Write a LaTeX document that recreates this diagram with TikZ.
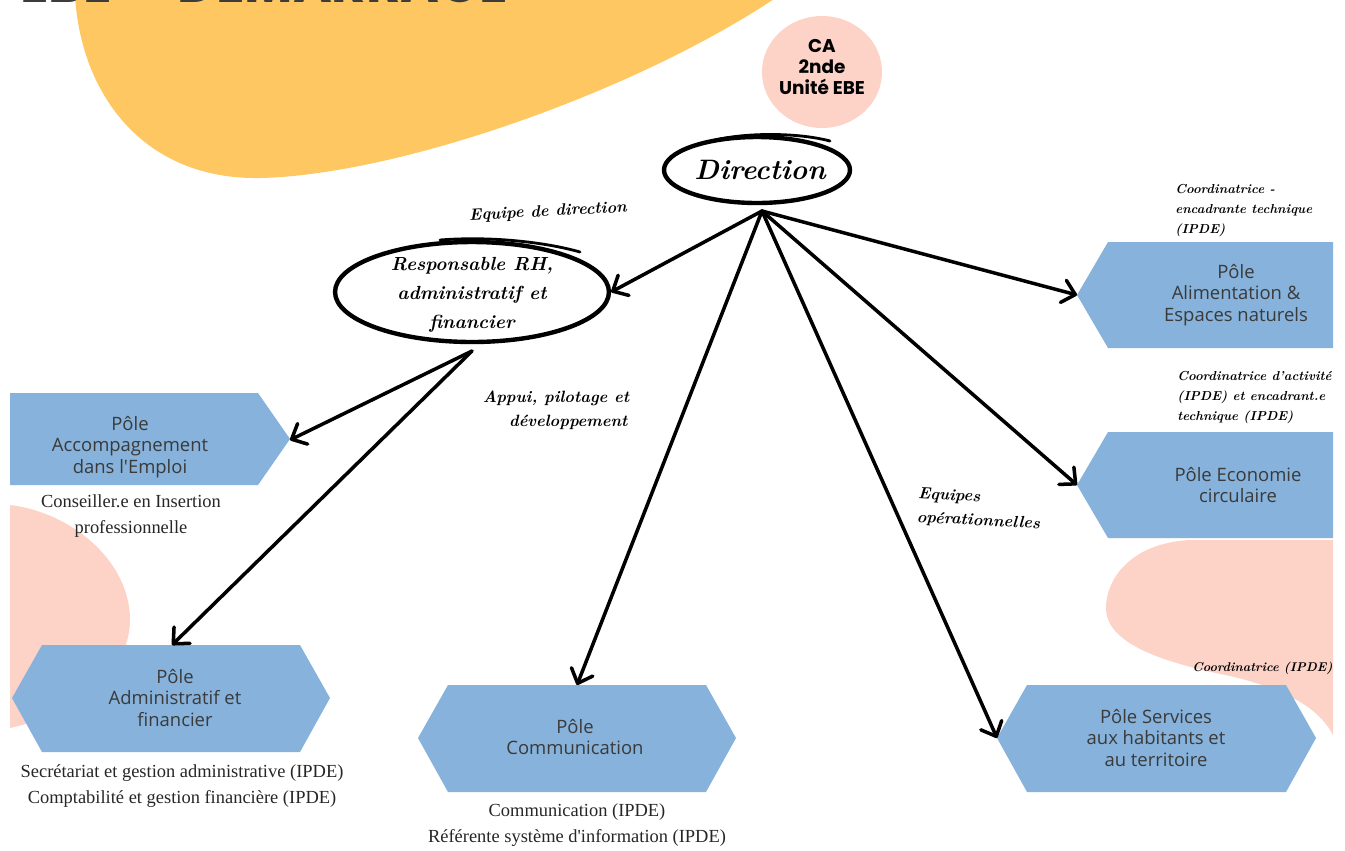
\documentclass[tikz,border=0pt]{standalone}
\usepackage{fontspec}
\usetikzlibrary{shapes.geometric,arrows.meta}
\newfontfamily\hexfont{Open Sans}
\newfontfamily\capfont{Liberation Serif}
\newfontfamily\roundfont{Poppins}
\definecolor{hexblue}{HTML}{86B2DB}
\definecolor{sunyellow}{HTML}{FEC761}
\definecolor{blush}{HTML}{FDD2C7}
\definecolor{hextext}{HTML}{3A3A3A}
\definecolor{captext}{HTML}{262626}
\definecolor{titlegray}{HTML}{3C3C3C}
\tikzset{
  hexbox/.style={fill=hexblue, draw=none},
  hexlabel/.style={font=\hexfont\fontsize{10.5}{12.2}\selectfont, text=hextext, align=center, inner sep=0pt},
  caplabel/.style={font=\capfont\fontsize{10.5}{14.5}\selectfont, text=captext, align=center, inner sep=0pt},
  scriptlabel/.style={font=\bfseries\itshape\fontsize{9.3}{13.5}\selectfont, text=black, inner sep=0pt},
  smallscript/.style={font=\bfseries\itshape\fontsize{7.4}{11.3}\selectfont, text=black, align=left, inner sep=0pt},
  ring/.style={ellipse, draw=black, line width=2.5pt, inner sep=0pt},
  link/.style={line width=2pt, line cap=round, -{Straight Barb[length=7pt,width=13pt,round]}},
}
\begin{document}
\begin{tikzpicture}[x=0.02cm, y=-0.02cm]
\useasboundingbox (0,0) rectangle (1345,850);
\clip (0,0) rectangle (1345,850);

% background shapes
\fill[sunyellow] (75,-5) .. controls (80,90) and (140,180) .. (260,178)
  .. controls (400,175) and (640,90) .. (780,-5) -- cycle;
\node[anchor=base west, inner sep=0pt, text=titlegray,
  font=\roundfont\bfseries\fontsize{30}{30}\selectfont] (title) at (20,2) {EBE\,\,-\,\,DEMARRAGE};
\fill[blush] (822,72) ellipse[x radius=60, y radius=56];
\fill[blush] (10,505) .. controls (70,512) and (130,560) .. (130,620)
  .. controls (130,675) and (70,715) .. (10,728) -- cycle;
\fill[blush] (1333,540) -- (1190,540) .. controls (1130,543) and (1105,580) .. (1106,610)
  .. controls (1108,640) and (1150,660) .. (1230,676)
  .. controls (1290,690) and (1320,710) .. (1333,735) -- cycle;

% board
\node[font=\roundfont\bfseries\fontsize{10.5}{12}\selectfont, align=center, inner sep=0pt] (ca) at (822,67) {CA\\2nde\\Unité EBE};

% management
\node[ring, minimum width=3.72cm, minimum height=1.32cm] (direction) at (757,170) {};
\node[font=\bfseries\itshape\fontsize{16}{16}\selectfont, inner sep=0pt] (dirlabel) at (760,170) {Direction};
\draw[line width=1.6pt, line cap=round] (715,140) .. controls (750,132) and (800,133) .. (830,141);

\node[ring, minimum width=5.48cm, minimum height=2.0cm] (rh) at (472,292) {};
\node[font=\bfseries\itshape\fontsize{10.8}{16.4}\selectfont, align=center, inner sep=0pt] (rhlabel) at (472,295)
  {Responsable RH,\\administratif et\\financier};
\draw[line width=1.6pt, line cap=round] (440,240) .. controls (490,236) and (545,242) .. (580,252);

\node[scriptlabel, rotate=3] (teamlabel) at (548,212) {Equipe de direction};
\node[scriptlabel, align=center] (supportlabel) at (556,410) {Appui, pilotage et\\\hspace*{1.5em}développement};
\node[scriptlabel, align=left, anchor=north west, rotate=-3] (opslabel) at (918,487) {Equipes\\opérationnelles};

% departments
\fill[hexbox] (1077,295) -- (1108,242) -- (1333,242) -- (1333,348) -- (1108,348) -- cycle;
\coordinate (alimtip) at (1077,295);
\node[hexlabel] (alim) at (1236,295) {Pôle\\Alimentation \&\\Espaces naturels};
\node[smallscript, anchor=north west] (alimnote) at (1175,184) {Coordinatrice -\\encadrante technique\\(IPDE)};

\fill[hexbox] (1077,485) -- (1108,432) -- (1333,432) -- (1333,538) -- (1108,538) -- cycle;
\coordinate (ecotip) at (1077,485);
\node[hexlabel] (eco) at (1238,485) {Pôle Economie\\circulaire};
\node[smallscript, anchor=north west] (econote) at (1177,371) {Coordinatrice d'activité\\(IPDE) et encadrant.e\\technique (IPDE)};

\fill[hexbox] (10,393) -- (258,393) -- (290,439) -- (258,485) -- (10,485) -- cycle;
\coordinate (accomptip) at (290,440);
\node[hexlabel] (accomp) at (130,447) {Pôle\\Accompagnement\\dans l'Emploi};
\node[caplabel] (accompnote) at (131,516) {Conseiller.e en Insertion\\professionnelle};

\fill[hexbox] (12,698) -- (42,645) -- (300,645) -- (330,698) -- (300,752) -- (42,752) -- cycle;
\coordinate (admintop) at (172,645);
\node[hexlabel] (admin) at (175,698) {Pôle\\Administratif et\\financier};
\node[caplabel] (adminnote) at (182,786) {Secrétariat et gestion administrative (IPDE)\\Comptabilité et gestion financière (IPDE)};

\fill[hexbox] (418,738) -- (448,685) -- (706,685) -- (736,738) -- (706,792) -- (448,792) -- cycle;
\coordinate (commtop) at (577,685);
\node[hexlabel] (comm) at (575,737) {Pôle\\Communication};
\node[caplabel] (commnote) at (577,825) {Communication (IPDE)\\Référente système d'information (IPDE)};

\fill[hexbox] (997,738) -- (1027,685) -- (1286,685) -- (1316,738) -- (1286,792) -- (1027,792) -- cycle;
\coordinate (servtip) at (997,738);
\node[hexlabel] (serv) at (1156,738) {Pôle Services\\aux habitants et\\au territoire};
\node[smallscript, anchor=north west, font=\bfseries\itshape\fontsize{7.2}{11}\selectfont] (servnote) at (1192,662) {Coordinatrice (IPDE)};

% connectors
\coordinate (hub) at (762,211);
\coordinate (rhfoot) at (472,351);
\draw[link] (hub) -- (rh.east);
\draw[link] (hub) -- (alimtip);
\draw[link] (hub) -- (ecotip);
\draw[link] (hub) -- (commtop);
\draw[link] (hub) -- (servtip);
\draw[link] (rhfoot) -- (accomptip);
\draw[link] (rhfoot) -- (admintop);
\end{tikzpicture}
\end{document}
